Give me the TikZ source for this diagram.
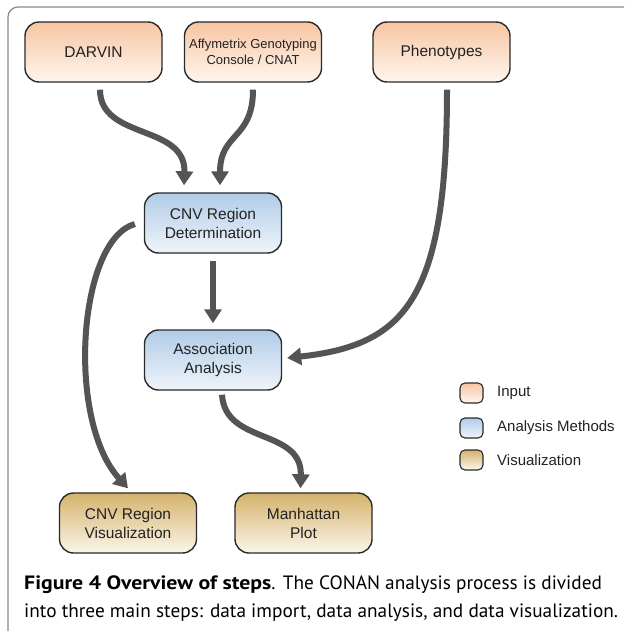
\documentclass[tikz,border=0pt]{standalone}
\usepackage{fontspec}
\setmainfont{Liberation Sans}
\newfontfamily\capfont{PT Sans}
\usetikzlibrary{arrows.meta,calc}
\definecolor{inTop}{HTML}{F8C5A2}
\definecolor{inBot}{HTML}{FEF6EF}
\definecolor{anTop}{HTML}{B1CCE8}
\definecolor{anBot}{HTML}{EFF4FA}
\definecolor{viTop}{HTML}{D5B26C}
\definecolor{viBot}{HTML}{FBF6EA}
\definecolor{edge}{HTML}{2A2A2A}
\definecolor{arr}{HTML}{545454}
\definecolor{frame}{HTML}{8A8A8A}
\definecolor{txt}{HTML}{222222}
\tikzset{
  box/.style={draw=edge, line width=1.4pt, rounded corners=14pt,
    minimum width=137pt, minimum height=60pt, inner sep=0pt, align=center,
    text=txt, font=\fontsize{15.5}{19}\selectfont},
  inbox/.style={box, top color=inTop, bottom color=inBot},
  anbox/.style={box, top color=anTop, bottom color=anBot},
  vibox/.style={box, top color=viTop, bottom color=viBot},
  legbox/.style={draw=edge, line width=1.1pt, rounded corners=5pt,
    minimum width=23pt, minimum height=20pt, inner sep=0pt},
  legtext/.style={anchor=west, inner sep=0pt, text=txt, font=\fontsize{15}{18}\selectfont},
  flow/.style={draw=arr, line width=6pt, -{Triangle[width=17pt,length=14pt]}},
  captext/.style={anchor=base west, inner sep=0pt, text=black, font=\capfont\fontsize{19.3}{22}\selectfont}
}
\begin{document}
\begin{tikzpicture}[x=1pt,y=-1pt]
\useasboundingbox (0,0) rectangle (626,634);
\fill[white] (0,0) rectangle (626,634);
% frame
\draw[frame, line width=1.2pt, rounded corners=10pt] (8,631) -- (8,7) -- (624,7);
% nodes
\node[inbox] (darvin) at (93.5,52) {DARVIN};
\node[inbox, font=\fontsize{13}{15.5}\selectfont] (affy) at (253,52) {Affymetrix Genotyping\\Console / CNAT};
\node[inbox] (pheno) at (441.5,52) {Phenotypes};
\node[anbox] (cnvdet) at (213,223) {CNV Region\\Determination};
\node[anbox] (assoc) at (213,360) {Association\\Analysis};
\node[vibox] (cnvvis) at (128,523) {CNV Region\\Visualization};
\node[vibox] (manh) at (303.5,523) {Manhattan\\Plot};
% connectors
\draw[flow] ([xshift=6.5pt,yshift=-7pt]darvin.south) .. controls (100,140) and (186,124) .. ([xshift=-29pt,yshift=7pt]cnvdet.north);
\draw[flow] ([yshift=-7pt]affy.south) .. controls (253,140) and (220,132) .. ([xshift=7pt,yshift=7pt]cnvdet.north);
\draw[flow] ([yshift=-7pt]cnvdet.south) -- ([yshift=6pt]assoc.north);
\draw[flow] ([xshift=5.5pt,yshift=-7pt]pheno.south) .. controls (447,300) and (405,345) .. ([xshift=5pt,yshift=2pt]assoc.east);
\draw[flow] ([xshift=-9pt,yshift=-1pt]cnvdet.west) .. controls (78,240) and (66,420) .. ([yshift=4pt]cnvvis.north);
\draw[flow] ([xshift=9pt,yshift=-4pt]assoc.south) .. controls (225,445) and (302,428) .. ([xshift=-3pt,yshift=4pt]manh.north);
% legend
\node[legbox, top color=inTop, bottom color=inBot] (lin) at (471.5,393) {};
\node[legbox, top color=anTop, bottom color=anBot] (lan) at (471.5,428) {};
\node[legbox, top color=viTop, bottom color=viBot] (lvi) at (471.5,460) {};
\node[legtext] (tin) at (497,393) {Input};
\node[legtext] (tan) at (497,428) {Analysis Methods};
\node[legtext] (tvi) at (497,460) {Visualization};
% caption
\node[captext] (cap1) at (24,589) {\scalebox{1.13}[1]{\textbf{Figure 4 Overview of steps}}.\hspace{0.5pt} The CONAN analysis process is divided};
\node[captext] (cap2) at (24,617) {into three main steps: data import, data analysis, and data visualization.};
\end{tikzpicture}
\end{document}
